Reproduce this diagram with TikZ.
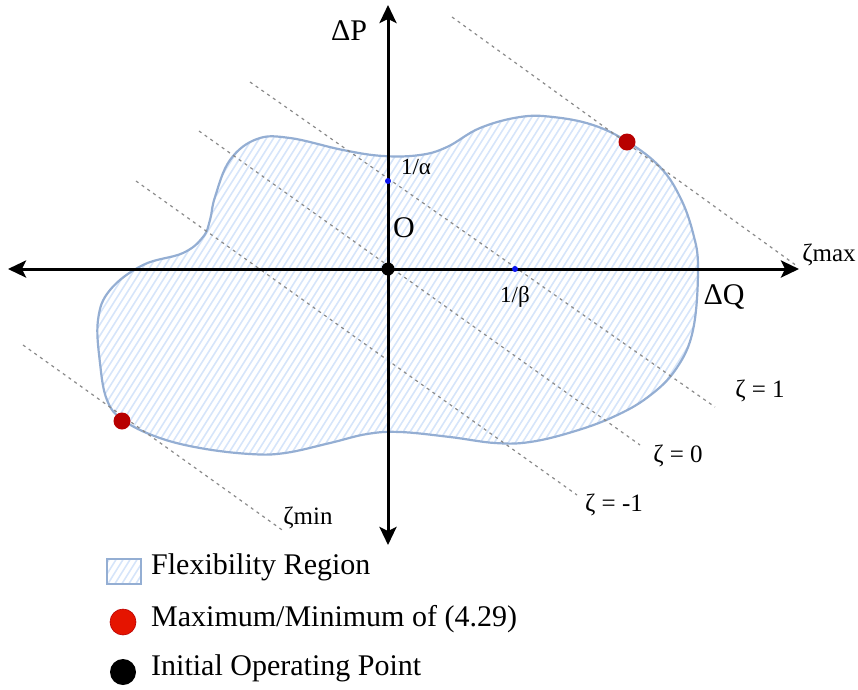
\documentclass[tikz,border=0pt]{standalone}
\usepackage{fontspec}
\setmainfont{Liberation Serif}
\usetikzlibrary{arrows.meta,positioning,calc}
\definecolor{cEdge}{HTML}{94AED3}
\definecolor{cHatch}{HTML}{D6E5FA}
\definecolor{cDash}{HTML}{8A8A8A}
\definecolor{cExt}{HTML}{B80000}
\definecolor{cExtLeg}{HTML}{E51400}
\definecolor{cCross}{HTML}{0A14F0}
\tikzset{
  axis/.style     = {line width=3pt,
                     {Stealth[length=18pt,width=17pt,inset=4pt]}-{Stealth[length=18pt,width=17pt,inset=4pt]}},
  zline/.style    = {draw=cDash, line width=1.2pt, dash pattern=on 3pt off 4pt},
  edge/.style     = {draw=cEdge, line width=2.2pt},
  hatchline/.style= {draw=cHatch, line width=1.6pt},
  dot/.style      = {circle, inner sep=0pt, draw=none},
  extpt/.style    = {dot, fill=cExt, minimum size=17pt},
  crosspt/.style  = {dot, fill=cCross, minimum size=6pt},
  origpt/.style   = {dot, fill=black, minimum size=13pt},
  big/.style      = {inner sep=0pt, font=\fontsize{30}{34}\selectfont},
  lbl/.style      = {inner sep=0pt, font=\fontsize{23}{27}\selectfont},
  zlbl/.style     = {inner sep=0pt, font=\fontsize{25}{29}\selectfont},
  legtext/.style  = {big, anchor=west},
}
\def\regionpath{plot[smooth cycle, tension=0.65] coordinates {
  (98,320) (100,363) (107,400) (123,420) (157,437) (200,448) (250,454)
  (285,453) (330,443) (367,434) (400,432) (450,437) (495,443) (530,442)
  (572,432) (613,417) (648,397) (676,369) (693,330) (698,268) (693,233)
  (680,197) (660,167) (628,142) (593,125) (553,117) (520,117) (480,128)
  (447,147) (420,155) (383,156) (343,150) (290,138) (257,139) (230,160)
  (215,197) (210,220) (203,237) (183,253) (143,265) (110,290)}}

\begin{document}
\begin{tikzpicture}[x=1pt, y=-1pt]
  \useasboundingbox (0,0) rectangle (858,689);
  % ---- flexibility region ----
  \begin{scope}
    \clip \regionpath;
    \foreach \i in {-160,-153,...,720}
      \draw[hatchline] (\i,470) -- ++(240,-380);
  \end{scope}
  \draw[edge] \regionpath;
  % ---- level lines ----
  \coordinate (zmaxA) at (452,17);  \coordinate (zmaxB) at (797,266);
  \coordinate (zoneA) at (250,82);  \coordinate (zoneB) at (715,407);
  \coordinate (zzeroA) at (199,131); \coordinate (zzeroB) at (640,445);
  \coordinate (zmoneA) at (136,181); \coordinate (zmoneB) at (577,495);
  \coordinate (zminA) at (23,345);  \coordinate (zminB) at (285,532);
  \draw[zline] (zmaxA) -- (zmaxB);
  \draw[zline] (zoneA) -- (zoneB);
  \draw[zline] (zzeroA) -- (zzeroB);
  \draw[zline] (zmoneA) -- (zmoneB);
  \draw[zline] (zminA) -- (zminB);
  % ---- axes ----
  \coordinate (qleft) at (8,269);  \coordinate (qright) at (799,269);
  \coordinate (ptop) at (388,5);   \coordinate (pbot) at (388,545);
  \draw[axis] (qleft) -- (qright);
  \draw[axis] (pbot) -- (ptop);
  % ---- points ----
  \node[origpt] (orig) at (388,269) {};
  \node[crosspt] (alpha) at (388,181) {};
  \node[crosspt] (beta) at (515,269) {};
  \node[extpt] (emax) at (627,142) {};
  \node[extpt] (emin) at (122,421) {};
  % ---- labels ----
  \node[big] (lP) at (349,31) {ΔP};
  \node[big] (lQ) at (724,297) {ΔQ};
  \node[big] (lO) at (404,228) {O};
  \node[lbl] (lalpha) at (416,167) {1/α};
  \node[lbl] (lbeta) at (515,297) {1/β};
  \node[zlbl] (lzmax) at (829,255) {ζmax};
  \node[zlbl] (lzone) at (760,391) {ζ = 1};
  \node[zlbl] (lzzero) at (678,456) {ζ = 0};
  \node[zlbl] (lzmone) at (614,505) {ζ = -1};
  \node[zlbl] (lzmin) at (308,518) {ζmin};
  % ---- legend ----
  \begin{scope}
    \clip (107,559) rectangle (141,584);
    \foreach \i in {90,97,...,150}
      \draw[hatchline] (\i,590) -- ++(25,-40);
  \end{scope}
  \draw[draw=cEdge, line width=1.3pt] (107,559) rectangle (141,584);
  \node[legtext] (treg) at (151,567) {Flexibility Region};
  \node[dot, fill=cExtLeg, draw=cExt, line width=0.6pt, minimum size=26pt] (kext) at (123,622) {};
  \node[legtext] (text) at (151,619) {Maximum/Minimum of (4.29)};
  \node[dot, fill=black, minimum size=26pt] (korig) at (123,672) {};
  \node[legtext] (torig) at (151,668) {Initial Operating Point};
\end{tikzpicture}
\end{document}
